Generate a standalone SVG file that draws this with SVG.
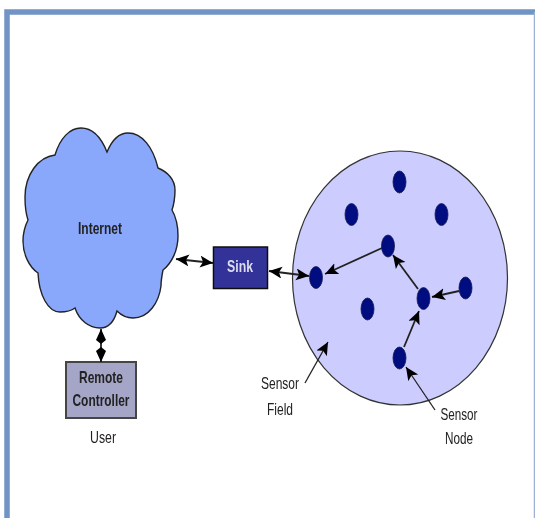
<svg xmlns="http://www.w3.org/2000/svg" width="535" height="518" viewBox="0 0 535 518">
<defs>
<marker id="ah" markerUnits="userSpaceOnUse" markerWidth="16" markerHeight="14" refX="13" refY="6" orient="auto"><path d="M0 0L13 6L0 12L3 6Z" fill="#000"/></marker>
<marker id="as" markerUnits="userSpaceOnUse" markerWidth="16" markerHeight="14" refX="13" refY="6" orient="auto-start-reverse"><path d="M0 0L13 6L0 12L3 6Z" fill="#000"/></marker>
<marker id="av" markerUnits="userSpaceOnUse" markerWidth="17" markerHeight="12" refX="15" refY="5" orient="auto-start-reverse"><path d="M0 5L4 0L15 5L4 10Z" fill="#000"/></marker>
<filter id="b" x="-10%" y="-10%" width="120%" height="120%"><feGaussianBlur stdDeviation="0.55"/></filter>
</defs>
<style>
text{font-family:"Liberation Sans",Arial,sans-serif;font-size:17px;text-anchor:middle;fill:#222}
.n{fill:#000a80;stroke:#1a1a50;stroke-width:.8}
.c{fill:none;stroke:#222;stroke-width:1.8}
.t{fill:none;stroke:#222;stroke-width:1.3}
</style>
<rect width="535" height="518" fill="#fff"/>
<g id="frame"><path d="M7 518V12H535" fill="none" stroke="#7094c4" stroke-width="5.5"/><path d="M534.500 12V518" stroke="#9db2d4" stroke-width="1.500"/></g>
<g filter="url(#b)">
<g id="internet">
<path d="M107 152C101 137 92 128 81 128C70 128 60 138 55 155C38 157 25 175 25 197C25 206 26 214 28 220C25 226 23 233 23 241C23 254 29 267 38 273C39 295 48 312 60 312C66 312 71 311 75 308C79 320 89 328 100 328C108 328 114 322 117 311C122 316 127 318 133 318C149 318 159 302 161 286C161 281 162 275 163 270C172 263 178 250 178 236C178 226 176 217 172 210C174 204 175 197 175 190C175 180 168 172 158 168C153 147 142 133 128 133C119 133 112 140 107 152Z" fill="#89a8fb" stroke="#222" stroke-width="1.400"/>
<text x="100" y="234" font-weight="bold" textLength="44" lengthAdjust="spacingAndGlyphs">Internet</text>
</g>
<g id="sink">
<rect x="213.500" y="247" width="54" height="41.500" fill="#333399" stroke="#111" stroke-width="1.500"/>
<text x="240" y="272" font-weight="bold" style="fill:#dcdcf0" textLength="26" lengthAdjust="spacingAndGlyphs">Sink</text>
</g>
<g id="controller">
<rect x="66" y="362" width="70" height="56" fill="#a5a5c8" stroke="#444" stroke-width="2"/>
<text x="101" y="383" font-weight="bold" textLength="44" lengthAdjust="spacingAndGlyphs">Remote</text>
<text x="101" y="406" font-weight="bold" textLength="57" lengthAdjust="spacingAndGlyphs">Controller</text>
</g>
<text id="user" x="103" y="443" textLength="26" lengthAdjust="spacingAndGlyphs">User</text>
<g id="field">
<ellipse cx="400" cy="278" rx="107.500" ry="127" fill="#ccccff" stroke="#333" stroke-width="1.200"/>
</g>
<g id="connectors">
<path class="c" d="M176 259L213 263" marker-start="url(#as)" marker-end="url(#ah)"/>
<path class="c" d="M269 271L309 276" marker-start="url(#as)" marker-end="url(#ah)"/>
<path class="c" d="M101 329V362" marker-start="url(#av)" marker-end="url(#av)"/>
<path class="c" d="M382 248L325 274" marker-end="url(#ah)"/>
<path class="c" d="M418 289L393 255" marker-end="url(#ah)"/>
<path class="c" d="M459 291L432 297" marker-end="url(#ah)"/>
<path class="c" d="M404 347L419 311" marker-end="url(#ah)"/>
<path class="t" d="M305 383L328 342" marker-end="url(#ah)"/>
<path class="t" d="M435 410L406 367" marker-end="url(#ah)"/>
</g>
<g id="node1"><ellipse class="n" cx="399.500" cy="182" rx="6.500" ry="11"/></g>
<g id="node2"><ellipse class="n" cx="351.500" cy="214.500" rx="6.500" ry="11"/></g>
<g id="node3"><ellipse class="n" cx="441.500" cy="214.500" rx="6.500" ry="11"/></g>
<g id="node4"><ellipse class="n" cx="388" cy="246" rx="6.500" ry="11"/></g>
<g id="node5"><ellipse class="n" cx="316" cy="277.500" rx="6.500" ry="11"/></g>
<g id="node6"><ellipse class="n" cx="367.500" cy="309" rx="6.500" ry="11"/></g>
<g id="node7"><ellipse class="n" cx="423.500" cy="298.500" rx="6.500" ry="11"/></g>
<g id="node8"><ellipse class="n" cx="465.500" cy="288" rx="6.500" ry="11"/></g>
<g id="node9"><ellipse class="n" cx="399.500" cy="358" rx="6.500" ry="11"/></g>
<text x="280" y="389" textLength="38" lengthAdjust="spacingAndGlyphs">Sensor</text>
<text x="280" y="415" textLength="26" lengthAdjust="spacingAndGlyphs">Field</text>
<text x="459" y="420" textLength="37" lengthAdjust="spacingAndGlyphs">Sensor</text>
<text x="459" y="444" textLength="28" lengthAdjust="spacingAndGlyphs">Node</text>
</g>
</svg>
